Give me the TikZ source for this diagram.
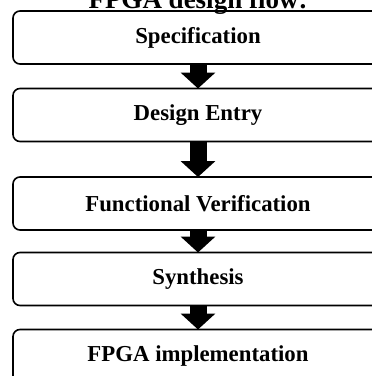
\documentclass[tikz,border=0pt]{standalone}
\usepackage{fontspec}
\setmainfont{Liberation Serif}
\usetikzlibrary{arrows.meta}

\begin{document}
\begin{tikzpicture}[x=1pt,y=-1pt,
    stage/.style={draw,line width=1.6pt,rounded corners=7pt,
      minimum width=370pt,minimum height=53pt,inner sep=0pt,outer sep=0pt,
      font=\fontsize{22.8}{26}\selectfont\bfseries},
    flow/.style={line width=17pt,-{Triangle[width=34pt,length=16pt]}}]
       \useasboundingbox (0,0) rectangle (372,376);
       \node[anchor=base,font=\fontsize{27}{32}\selectfont\bfseries] (title) at (198,8) {FPGA design flow:};
       \node[stage] (spec)   at (198, 37.5) {Specification};
       \node[stage] (entry)  at (198,115)   {Design Entry};
       \node[stage] (verif)  at (198,203.5) {Functional Verification};
       \node[stage] (synth)  at (198,279)   {Synthesis};
       \node[stage] (impl)   at (198,356)   {FPGA implementation};
       \draw[flow] (spec)  -- (entry);
       \draw[flow] (entry) -- (verif);
       \draw[flow] (verif) -- (synth);
       \draw[flow] (synth) -- (impl);
      \end{tikzpicture}
\end{document}
